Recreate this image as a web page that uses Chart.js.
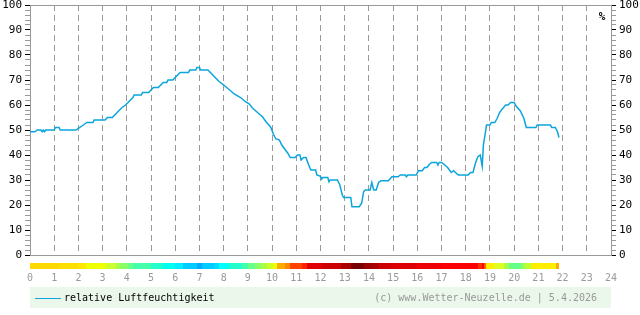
<!DOCTYPE html>
<html>
<head>
<meta charset="utf-8">
<script src="https://cdn.jsdelivr.net/npm/chart.js@4/dist/chart.umd.min.js"></script>
<style>
  html, body { margin: 0; padding: 0; background: #fff; }
  canvas { display: block; }
</style>
</head>
<body>
<canvas id="chart" width="640" height="315"></canvas>
<script>
// Stunde des Tages und relative Luftfeuchtigkeit (%)
const hours = [0, 0.2, 0.3, 0.45, 0.5, 0.55, 0.6, 0.65, 1.0, 1.05, 1.2, 1.25, 1.9, 2.0, 2.1, 2.2, 2.35, 2.6, 2.65, 3.1,
  3.2, 3.4, 3.5, 3.6, 3.7, 3.8, 3.95, 4.05, 4.15, 4.25, 4.3, 4.6, 4.65, 4.9, 5.0, 5.1, 5.3, 5.4, 5.5, 5.65,
  5.7, 5.9, 6.0, 6.1, 6.2, 6.55, 6.6, 6.85, 6.9, 7.0, 7.05, 7.35, 7.45, 7.55, 7.7, 7.8, 8.0, 8.25, 8.45, 8.7,
  8.9, 9.05, 9.2, 9.4, 9.6, 9.75, 9.95, 10.05, 10.15, 10.3, 10.4, 10.55, 10.65, 10.75, 10.95, 11.05, 11.15, 11.2, 11.3, 11.4,
  11.5, 11.6, 11.8, 11.85, 12.0, 12.05, 12.1, 12.3, 12.35, 12.4, 12.7, 12.8, 12.9, 12.95, 13.25, 13.3, 13.6, 13.7, 13.78, 13.85,
  14.05, 14.12, 14.2, 14.3, 14.4, 14.5, 14.8, 14.95, 15.2, 15.3, 15.5, 15.55, 15.6, 15.95, 16.05, 16.2, 16.3, 16.4, 16.5, 16.6,
  16.8, 16.85, 16.9, 17.0, 17.1, 17.25, 17.4, 17.5, 17.65, 17.7, 18.1, 18.2, 18.3, 18.4, 18.5, 18.6, 18.68, 18.73, 18.86, 19.0,
  19.05, 19.2, 19.3, 19.4, 19.5, 19.65, 19.75, 19.85, 20.0, 20.1, 20.25, 20.4, 20.5, 20.9, 20.95, 21.5, 21.55, 21.7, 21.79, 21.85];
const humidity = [49.3, 49.3, 50, 50, 49.3, 50, 49.3, 50, 50, 51, 51, 50, 50, 50.7, 51.3, 52, 53, 53, 54, 54,
  55, 55, 56, 57, 58, 59, 60, 61, 62, 63, 64, 64, 65, 65, 66, 67, 67, 68, 69, 69,
  70, 70, 71, 72, 73, 73, 74, 74, 75, 75, 74, 74, 73, 72, 70.5, 69.5, 68, 66, 64.3, 63,
  61.3, 60.5, 58.7, 57, 55.3, 53.3, 51, 48.4, 46.5, 46, 44, 42, 40.7, 39, 39, 40, 40, 38, 39, 39,
  36.3, 34, 34, 32, 31.5, 30.4, 31, 31, 29.3, 30, 30, 28, 24, 23, 23, 19.3, 19.3, 20.7, 25.3, 26,
  26, 29, 26, 26, 29, 29.7, 29.7, 31.3, 31.3, 32, 32, 31.3, 32, 32, 33.7, 33.7, 35, 35, 36.3, 37,
  37, 36, 37, 37, 36.3, 35, 33, 33.7, 32.3, 32, 32, 33, 33, 36.7, 39.3, 40, 35.5, 44, 52, 52,
  53, 53, 54.7, 57, 58.3, 60, 60, 61, 61, 59.3, 57.7, 54.7, 51, 51, 52, 52, 51, 51, 49.3, 47];

// Farbband (Temperatur) – Beginn je Abschnitt in Stunden und Farbe
const stripStart = [0, 1.2, 2.0, 2.3, 3.15, 3.55, 3.7, 4.05, 4.25, 5.0, 5.5, 5.98, 6.3, 6.9, 7.1, 7.6, 7.8, 8.2, 8.75, 9.0,
  9.3, 9.55, 9.8, 10.05, 10.2, 10.55, 10.76, 11.24, 11.45, 12.07, 12.83, 13.24, 13.79, 14.14, 14.41, 14.9, 16.0, 16.97, 18.49, 18.69,
  18.76, 18.83, 19.18, 19.59, 19.8, 20.28, 20.42, 20.69, 21.73];
const stripColor = ['#ffd800', '#ffdf00', '#ffe800', '#eeff00', '#ccff33', '#aaff44', '#88ff66', '#66ff88', '#44ffaa', '#22ffcc',
  '#00ffee', '#00eeff', '#00ccff', '#00aaff', '#00ccff', '#00ddff', '#00ffff', '#22ffcc', '#44ffaa', '#66ff88',
  '#88ff66', '#aaff44', '#ccff22', '#eeff00', '#ffaa00', '#ff8800', '#ff4400', '#ff2200', '#e00000', '#cc0000',
  '#aa0000', '#770000', '#990000', '#aa0000', '#cc0000', '#dd0000', '#ee0000', '#ff0000', '#ff3300', '#ff0000',
  '#ff6600', '#ffee00', '#ddff22', '#aaff44', '#66ff88', '#88ff66', '#bbff33', '#ffee00', '#ffaa00'];
const stripEnd = 21.87;

const xTicks = [0, 24];
const yTicks = [0, 100];
const seriesLabel = 'relative Luftfeuchtigkeit';
const creditText = '(c) www.Wetter-Neuzelle.de | 5.4.2026';
const unitText = '%';

const lineColor = '#0aa5dc';
const gray = '#999999';
const mono = '"DejaVu Sans Mono", monospace';

const points = hours.map((h, i) => ({ x: h, y: humidity[i] }));

// Farbband, Legende und Einheit
const extras = {
  id: 'extras',
  afterDraw(chart) {
    const { ctx, chartArea, scales } = chart;
    const xs = scales.x;
    ctx.save();
    for (let i = 0; i < stripStart.length; i++) {
      const a = xs.getPixelForValue(stripStart[i]);
      const b = xs.getPixelForValue(i + 1 < stripStart.length ? stripStart[i + 1] : stripEnd);
      ctx.fillStyle = stripColor[i];
      ctx.fillRect(Math.round(a), chartArea.bottom + 8, Math.round(b) - Math.round(a), 6);
    }
    // Legende
    ctx.fillStyle = '#ebf7ea';
    ctx.fillRect(chartArea.left, chartArea.bottom + 32, chartArea.right - chartArea.left, 21);
    ctx.strokeStyle = lineColor;
    ctx.lineWidth = 1;
    ctx.beginPath();
    ctx.moveTo(chartArea.left + 5, chartArea.bottom + 43.5);
    ctx.lineTo(chartArea.left + 31, chartArea.bottom + 43.5);
    ctx.stroke();
    ctx.font = '10px ' + mono;
    ctx.textBaseline = 'middle';
    ctx.fillStyle = '#000';
    ctx.textAlign = 'left';
    ctx.fillText(seriesLabel, chartArea.left + 34, chartArea.bottom + 43);
    ctx.fillStyle = gray;
    ctx.textAlign = 'right';
    ctx.fillText(creditText, chartArea.right - 14, chartArea.bottom + 43);
    // Einheit
    ctx.fillStyle = '#000';
    ctx.font = 'bold 11px ' + mono;
    ctx.textAlign = 'center';
    ctx.fillText(unitText, chartArea.right - 9, chartArea.top + 12);
    ctx.restore();
  }
};

const yAxis = (pos) => ({
  type: 'linear',
  position: pos,
  min: yTicks[0],
  max: yTicks[1],
  afterFit: (s) => {
    s.width = pos === 'left' ? 30 : 29;
    s.paddingTop = 0;
    s.paddingBottom = 0;
  },
  ticks: {
    stepSize: 2,
    autoSkip: false,
    padding: 3,
    color: '#000',
    font: { family: mono, size: 11 },
    callback: (v) => (v % 10 === 0 ? v : '')
  },
  grid: {
    drawOnChartArea: pos === 'left',
    color: (c) => (c.tick && c.tick.value === 100 ? gray : 'transparent'),
    tickColor: (c) => (c.tick && c.tick.value % 10 === 0 ? '#000' : gray),
    tickLength: 5,
    lineWidth: 1
  },
  border: { color: gray, width: 1 }
});

new Chart(document.getElementById('chart'), {
  type: 'line',
  data: {
    datasets: [{
      label: seriesLabel,
      data: points,
      borderColor: lineColor,
      borderWidth: 1.5,
      pointRadius: 0,
      tension: 0,
      fill: false
    }]
  },
  options: {
    responsive: false,
    animation: false,
    devicePixelRatio: 1,
    layout: { padding: { top: 5, left: 0, right: 0, bottom: 0 } },
    plugins: { legend: { display: false }, tooltip: { enabled: false } },
    scales: {
      x: {
        type: 'linear',
        min: xTicks[0],
        max: xTicks[1],
        afterFit: (s) => { s.height = 60; },
        ticks: {
          stepSize: 1,
          autoSkip: false,
          maxRotation: 0,
          padding: 17,
          color: gray,
          font: { family: mono, size: 10 }
        },
        grid: {
          drawTicks: false,
          color: (c) => (c.tick && (c.tick.value === 0 || c.tick.value === 24) ? 'transparent' : gray),
          lineWidth: 1
        },
        border: { color: gray, width: 1, dash: [6, 4] }
      },
      y: yAxis('left'),
      y2: yAxis('right')
    }
  },
  plugins: [extras]
});
</script>
</body>
</html>
